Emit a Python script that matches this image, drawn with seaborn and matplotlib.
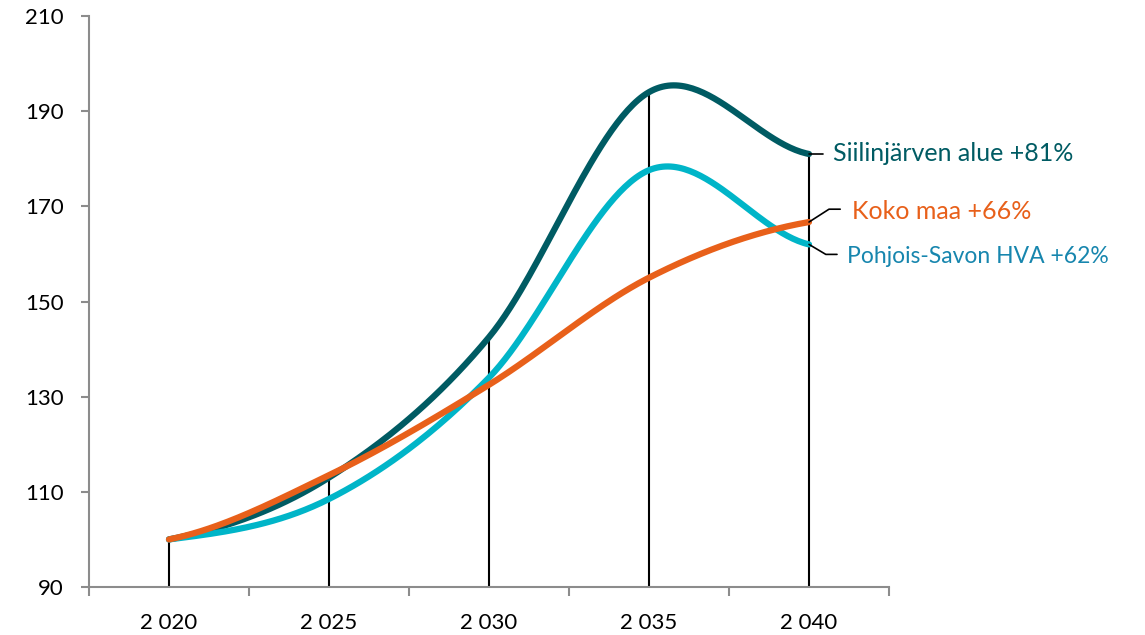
import numpy as np
import pandas as pd
import matplotlib
matplotlib.use('Agg')
import matplotlib.pyplot as plt
import seaborn as sns

# Data (index, 2020 = 100)
years = ['2 020', '2 025', '2 030', '2 035', '2 040']
siilinjarvi = [100, 113, 142.5, 194, 181]
pohjois_savo = [100, 108.5, 134, 177.6, 162]
koko_maa = [100, 113.5, 132.5, 155, 166.7]

series_names = ['Siilinjärven alue', 'Pohjois-Savon HVA', 'Koko maa']
series_values = [siilinjarvi, pohjois_savo, koko_maa]
line_colors = ['#005B63', '#00B5C8', '#E8601A']
label_texts = ['Siilinjärven alue +81%', 'Pohjois-Savon HVA +62%', 'Koko maa +66%']
label_colors = ['#005B63', '#1786AE', '#E8601A']


def smooth(y, steps=60):
    # Catmull-Rom style smoothing, similar to Excel's "smoothed line"
    y = np.asarray(y, dtype=float)
    n = len(y)
    xs, ys = [], []
    for i in range(n - 1):
        p0 = y[i - 1] if i > 0 else y[i]
        p1, p2 = y[i], y[i + 1]
        p3 = y[i + 2] if i + 2 < n else y[i + 1]
        m1 = (p2 - p0) / 2
        m2 = (p3 - p1) / 2
        t = np.linspace(0, 1, steps, endpoint=(i == n - 2))
        h00 = 2 * t**3 - 3 * t**2 + 1
        h10 = t**3 - 2 * t**2 + t
        h01 = -2 * t**3 + 3 * t**2
        h11 = t**3 - t**2
        xs.append(i + t)
        ys.append(h00 * p1 + h10 * m1 + h01 * p2 + h11 * m2)
    return np.concatenate(xs), np.concatenate(ys)


frames = []
for name, vals in zip(series_names, series_values):
    sx, sy = smooth(vals)
    frames.append(pd.DataFrame({'x': sx, 'y': sy, 'series': name}))
df = pd.concat(frames, ignore_index=True)

sns.set_style('white')
plt.rcParams['font.family'] = ['Lato', 'DejaVu Sans']

fig = plt.figure(figsize=(11.45, 6.35), dpi=100)
ax = fig.add_axes([89 / 1145, 1 - 587 / 635, 800 / 1145, 571 / 635])

# drop lines from the highest series down to the axis
top = np.max(np.array(series_values), axis=0)
ax.vlines(range(len(years)), 90, top, color='black', linewidth=1.5, zorder=1)

sns.lineplot(data=df, x='x', y='y', hue='series', hue_order=series_names,
             palette=dict(zip(series_names, line_colors)), linewidth=4.5,
             sort=False, estimator=None, legend=False, ax=ax, zorder=3)
for line in ax.get_lines():
    line.set_solid_capstyle('round')

# end labels with leader lines
last = len(years) - 1
leaders = {
    'Siilinjärven alue': [(0, 0), (0.085, 0), (0.085, 0)],
    'Pohjois-Savon HVA': [(0, 0), (0.105, -2.1), (0.175, -2.1)],
    'Koko maa': [(0, 0), (0.125, 2.7), (0.195, 2.7)],
}
text_offsets = {
    'Siilinjärven alue': (0.15, 0.0),
    'Pohjois-Savon HVA': (0.24, -2.5),
    'Koko maa': (0.27, 2.3),
}
label_sizes = {'Siilinjärven alue': 18, 'Pohjois-Savon HVA': 16.5, 'Koko maa': 18}
for name, vals, txt, col in zip(series_names, series_values, label_texts, label_colors):
    v = vals[-1]
    pts = leaders[name]
    ax.plot([last + p[0] for p in pts], [v + p[1] for p in pts],
            color='black', linewidth=1.2, clip_on=False, zorder=4)
    dx, dy = text_offsets[name]
    ax.text(last + dx, v + dy, txt, color=col, fontsize=label_sizes[name],
            va='center', ha='left', clip_on=False)

ax.set_xlim(-0.5, len(years) - 0.5)
ax.set_ylim(90, 210)
ax.set_yticks(range(90, 211, 20))
ax.set_xticks(range(len(years)))
ax.set_xticklabels(years)
ax.set_xticks(np.arange(-0.5, len(years), 1), minor=True)
ax.set_xlabel('')
ax.set_ylabel('')

for s in ['top', 'right']:
    ax.spines[s].set_visible(False)
for s in ['left', 'bottom']:
    ax.spines[s].set_color('#8C8C8C')
    ax.spines[s].set_linewidth(1.5)

ax.tick_params(axis='x', which='major', bottom=True, length=0, pad=19, labelsize=16, colors='black')
ax.tick_params(axis='x', which='minor', bottom=True, length=6.5, width=1.5, color='#8C8C8C',
               direction='out')
ax.tick_params(axis='y', left=True, length=6, width=1.5, color='#8C8C8C', direction='out', pad=12,
               labelsize=16, labelcolor='black')

fig.savefig('out.png', dpi=100)
